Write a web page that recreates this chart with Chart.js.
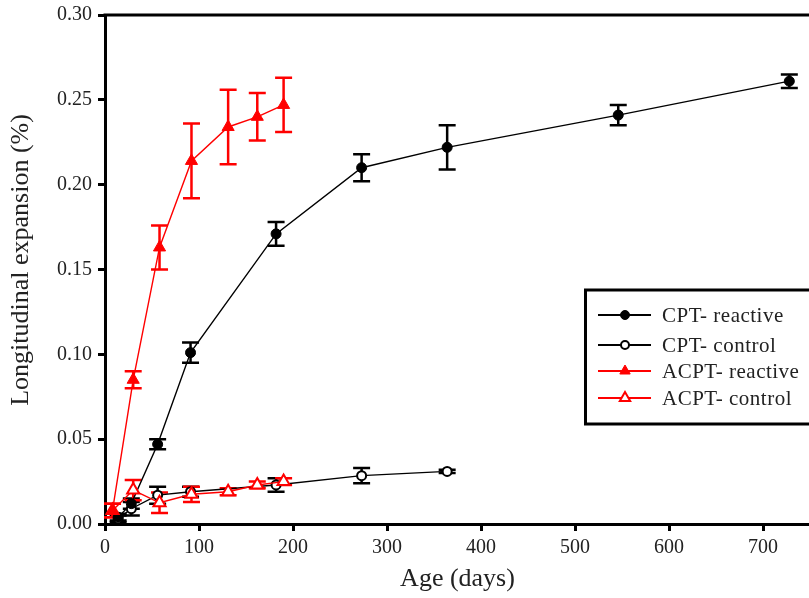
<!DOCTYPE html>
<html>
<head>
<meta charset="utf-8">
<script src="https://cdn.jsdelivr.net/npm/chart.js@4"></script>
<style>
  html,body{margin:0;padding:0;background:#fff;overflow:hidden;}
  #wrap{width:809px;height:598px;overflow:hidden;}
</style>
</head>
<body>
<div id="wrap"><canvas id="c" width="819" height="598"></canvas></div>
<script>
// CPT series (days)
const cptDays        = [14, 28, 56, 91, 182, 273, 364, 546, 728];
const cptReactive    = [0.004, 0.012, 0.047, 0.101, 0.171, 0.210, 0.222, 0.241, 0.261];
const cptReactiveErr = [0.002, 0.003, 0.003, 0.006, 0.007, 0.008, 0.013, 0.006, 0.004];
const cptCtrlDays    = [14, 28, 56, 91, 182, 273, 364];
const cptControl     = [0.003, 0.009, 0.017, 0.019, 0.023, 0.0285, 0.031];
const cptControlErr  = [0.002, 0.004, 0.005, 0.003, 0.004, 0.0045, 0.001];
// ACPT series
const acptDays        = [8, 30, 58, 92, 131, 162, 190];
const acptReactive    = [0.008, 0.085, 0.163, 0.214, 0.234, 0.240, 0.247];
const acptReactiveErr = [0.004, 0.005, 0.013, 0.022, 0.022, 0.014, 0.016];
const acptControl     = [0.008, 0.020, 0.0125, 0.0175, 0.019, 0.023, 0.025];
const acptControlErr  = [0.004, 0.006, 0.006, 0.0045, 0.002, 0.002, 0.002];

const labels = ['CPT- reactive', 'CPT- control', 'ACPT- reactive', 'ACPT- control'];
const yTicks = [0, 0.05, 0.10, 0.15, 0.20, 0.25, 0.30];
const yTitle = 'Longitudinal expansion (%)';

const SERIF = '"Liberation Serif", "DejaVu Serif", serif';
const TXT = '#222';

function pts(xs, ys, es){ return xs.map((x,i)=>({x:x, y:ys[i], e:es[i]})); }

const datasets = [
  {label:labels[0], data:pts(cptDays,cptReactive,cptReactiveErr), borderColor:'#000', backgroundColor:'#000',
   pointStyle:'circle', pointRadius:5, borderWidth:1.4, pointBorderWidth:1, legR:4.5, order:2},
  {label:labels[1], data:pts(cptCtrlDays,cptControl,cptControlErr), borderColor:'#000', backgroundColor:'#fff',
   pointStyle:'circle', pointRadius:4.5, borderWidth:1.4, pointBorderWidth:2, legR:4, order:3},
  {label:labels[2], data:pts(acptDays,acptReactive,acptReactiveErr), borderColor:'#f00', backgroundColor:'#f00',
   pointStyle:'triangle', pointRadius:7, borderWidth:1.4, pointBorderWidth:1, legR:6, order:0},
  {label:labels[3], data:pts(acptDays,acptControl,acptControlErr), borderColor:'#f00', backgroundColor:'#fff',
   pointStyle:'triangle', pointRadius:7, borderWidth:1.4, pointBorderWidth:2, legR:6, order:1}
];
datasets.forEach(d=>{ d.showLine=true; d.tension=0; d.pointBorderColor=d.borderColor; d.pointBackgroundColor=d.backgroundColor; });

// error bars, drawn under the markers
const errorBars = {
  id:'errorBars',
  beforeDatasetsDraw(chart){
    const {ctx, scales:{x,y}} = chart;
    ctx.save();
    ctx.lineWidth = 2.5;
    [1,0,3,2].forEach(i=>{
      const ds = chart.data.datasets[i];
      ctx.strokeStyle = ds.borderColor;
      ds.data.forEach(p=>{
        if(!p.e) return;
        const px = x.getPixelForValue(p.x);
        const top = y.getPixelForValue(p.y+p.e), bot = y.getPixelForValue(p.y-p.e);
        ctx.beginPath();
        ctx.moveTo(px, top); ctx.lineTo(px, bot);
        ctx.moveTo(px-8.5, top); ctx.lineTo(px+8.5, top);
        ctx.moveTo(px-8.5, bot); ctx.lineTo(px+8.5, bot);
        ctx.stroke();
      });
    });
    ctx.restore();
  }
};

// top frame line, y title and boxed legend inside the plot
const frameLegend = {
  id:'frameLegend',
  afterDraw(chart){
    const {ctx, chartArea:a} = chart;
    ctx.save();
    ctx.strokeStyle = '#000';
    ctx.lineWidth = 3;
    ctx.beginPath(); ctx.moveTo(a.left-1.5, a.top); ctx.lineTo(chart.width+5, a.top); ctx.stroke();

    // y title
    ctx.save();
    ctx.translate(21, 260);
    ctx.rotate(-Math.PI/2);
    ctx.fillStyle = TXT;
    ctx.font = '26px ' + SERIF;
    ctx.textAlign = 'center';
    ctx.textBaseline = 'middle';
    ctx.fillText(yTitle, 0, 0);
    ctx.restore();

    // legend box
    ctx.lineWidth = 3;
    ctx.strokeRect(585.5, 290, 260, 134);
    const rows = [315, 345, 371, 398];
    chart.data.datasets.forEach((ds,i)=>{
      const yy = rows[i];
      ctx.lineWidth = 2;
      ctx.strokeStyle = ds.borderColor;
      ctx.beginPath(); ctx.moveTo(598, yy); ctx.lineTo(651, yy); ctx.stroke();
      ctx.lineWidth = ds.pointBorderWidth;
      ctx.fillStyle = ds.backgroundColor;
      Chart.helpers.drawPoint(ctx, {pointStyle:ds.pointStyle, radius:ds.legR, rotation:0, borderWidth:ds.pointBorderWidth}, 625, yy);
      ctx.fillStyle = TXT;
      ctx.font = '21px ' + SERIF;
      ctx.letterSpacing = '0.5px';
      ctx.textBaseline = 'middle';
      ctx.fillText(ds.label, 662, yy+1);
    });
    ctx.restore();
  }
};

new Chart(document.getElementById('c'), {
  type:'scatter',
  data:{datasets},
  options:{
    responsive:false,
    devicePixelRatio:1,
    animation:false,
    layout:{padding:{top:15, right:0, left:0, bottom:0}},
    plugins:{legend:{display:false}, tooltip:{enabled:false}},
    scales:{
      x:{
        type:'linear', min:0, max:750,
        border:{display:true, color:'#000', width:3},
        grid:{display:true, drawOnChartArea:false, drawTicks:true, tickLength:7, tickWidth:3, color:'#000'},
        ticks:{stepSize:100, includeBounds:false, color:TXT, font:{family:SERIF, size:20}, padding:5, maxRotation:0},
        title:{display:true, text:'Age (days)', color:TXT, font:{family:SERIF, size:26}, padding:{top:0, bottom:3}},
        afterFit(s){ s.height = 74; }
      },
      y:{
        type:'linear', min:0, max:0.30,
        border:{display:true, color:'#000', width:3},
        grid:{display:true, drawOnChartArea:false, drawTicks:true, tickLength:7, tickWidth:3, color:'#000'},
        afterBuildTicks(s){ s.ticks = yTicks.map(v=>({value:v})); },
        ticks:{color:TXT, font:{family:SERIF, size:20}, padding:6, callback:v=>v.toFixed(2)},
        afterFit(s){ s.width = 105; s.paddingTop = 0; s.paddingBottom = 0; }
      }
    }
  },
  plugins:[errorBars, frameLegend]
});
</script>
</body>
</html>
